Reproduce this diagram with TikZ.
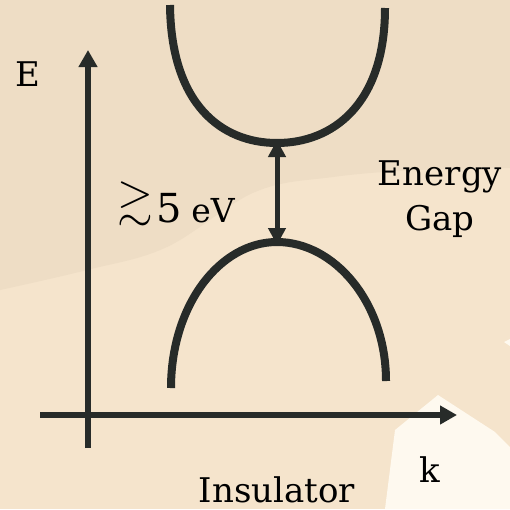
\documentclass[tikz,border=0pt]{standalone}
\usepackage{amssymb}
\usepackage{fontspec}
\setmainfont{DejaVu Serif}
\usetikzlibrary{arrows.meta}
\definecolor{bgup}{HTML}{EEDDC5}
\definecolor{bglow}{HTML}{F5E4CC}
\definecolor{bgwhite}{HTML}{FEF9EF}
\definecolor{ink}{HTML}{272B29}
\tikzset{
  axis/.style={draw=ink,line width=6pt,-{Triangle[length=17pt,width=18pt]}},
  band/.style={draw=ink,line width=8pt},
  gaparrow/.style={draw=ink,line width=5pt,{Triangle[length=17pt,width=17pt]}-{Triangle[length=17pt,width=17pt]},shorten <=0pt,shorten >=0pt},
  lbl/.style={text=black,inner sep=0pt,font=\fontsize{34}{40}\selectfont},
}
\begin{document}
\begin{tikzpicture}[x=1pt,y=-1pt]
\useasboundingbox (0,0) rectangle (510,509);
% background
\fill[bglow] (0,0) rectangle (510,509);
\fill[bgup] (0,0) -- (510,0) -- plot[smooth,tension=0.6] coordinates {(510,168) (417,170) (333,177) (255,192) (167,247) (87,270) (0,290)} -- cycle;
\fill[bgwhite] (385,509) -- (395,430) -- (438,395) -- (495,432) -- (510,447) -- (510,509) -- cycle;
\fill[bgwhite] (504,342) -- (510,339) -- (510,346) -- cycle;
% coordinates
\coordinate (yb) at (88,448);
\coordinate (yt) at (88,50);
\coordinate (xl) at (40,415);
\coordinate (xr) at (457,415);
\coordinate (cbmin) at (277,143);
\coordinate (vbmax) at (277,242);
% axes
\draw[axis] (yb) -- (yt);
\draw[axis] (xl) -- (xr);
% bands
\draw[band] (170,5) .. controls (171,105) and (222,143) .. (cbmin)
  .. controls (332,143) and (385,105) .. (385,8);
\draw[band] (171,388) .. controls (171,305) and (220,242) .. (vbmax)
  .. controls (334,242) and (386,302) .. (386,381);
% gap arrow
\draw[gaparrow] ([yshift=3pt]cbmin) -- ([yshift=-3pt]vbmax);
% labels
\node[lbl,anchor=base] (E) at (28,86) {E};
\node[lbl,anchor=base] (k) at (430,482) {k};
\node[lbl,anchor=base] (ins) at (277,502) {Insulator};
\node[lbl,anchor=base] (eg) at (440,185) {Energy};
\node[lbl,anchor=base] (gap) at (440,230) {Gap};
\node[anchor=base west,inner sep=0pt] (gapval) at (117,222)
  {\fontsize{46}{50}\selectfont\raisebox{7pt}{$\gtrsim$}\hspace{4pt}\fontsize{40}{44}\selectfont 5\fontsize{33}{36}\selectfont\hspace{9pt}eV};
\end{tikzpicture}
\end{document}
